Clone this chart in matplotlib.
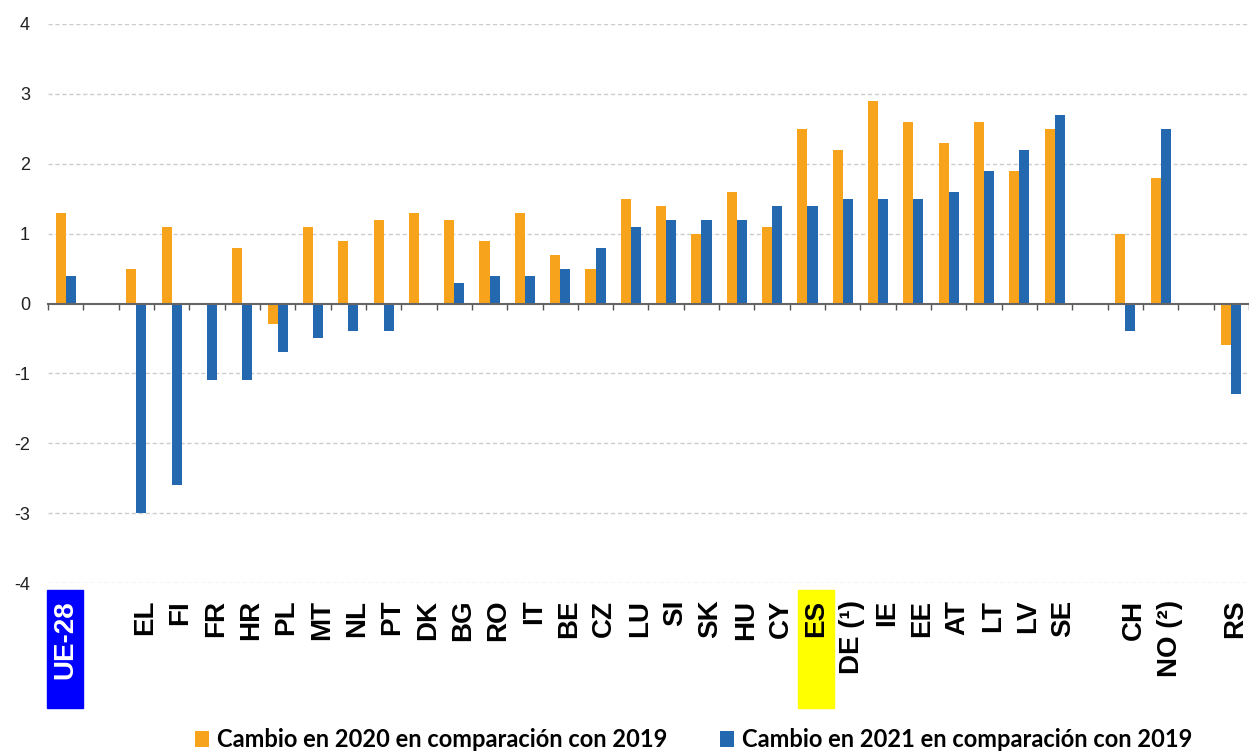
import numpy as np
import matplotlib.pyplot as plt
from matplotlib.patches import Rectangle

nan = np.nan

# empty strings are the blank slots between groups
paises = ["UE-28", "", "EL", "FI", "FR", "HR", "PL", "MT", "NL", "PT", "DK",
          "BG", "RO", "IT", "BE", "CZ", "LU", "SI", "SK", "HU", "CY", "ES",
          "DE (¹)", "IE", "EE", "AT", "LT", "LV", "SE", "", "CH", "NO (²)", "", "RS"]
cambio_2020 = [1.3, nan, 0.5, 1.1, 0.0, 0.8, -0.3, 1.1, 0.9, 1.2, 1.3,
               1.2, 0.9, 1.3, 0.7, 0.5, 1.5, 1.4, 1.0, 1.6, 1.1, 2.5,
               2.2, 2.9, 2.6, 2.3, 2.6, 1.9, 2.5, nan, 1.0, 1.8, nan, -0.6]
cambio_2021 = [0.4, nan, -3.0, -2.6, -1.1, -1.1, -0.7, -0.5, -0.4, -0.4, 0.0,
               0.3, 0.4, 0.4, 0.5, 0.8, 1.1, 1.2, 1.2, 1.2, 1.4, 1.4,
               1.5, 1.5, 1.5, 1.6, 1.9, 2.2, 2.7, nan, -0.4, 2.5, nan, -1.3]
serie_2020 = "Cambio en 2020 en comparación con 2019"
serie_2021 = "Cambio en 2021 en comparación con 2019"
resaltados = {"UE-28": ("#0000ff", "white"), "ES": ("#ffff00", "black")}

naranja = "#f7a31c"
azul = "#2468b0"

plt.rcParams['font.family'] = ['Liberation Sans', 'DejaVu Sans']
plt.rcParams['axes.unicode_minus'] = False

fig = plt.figure(figsize=(12.49, 7.51), dpi=100)
ax = fig.add_axes([48 / 1249, 168 / 751, 1 - 48 / 1249, 559 / 751])

x = np.arange(len(paises))
w = 0.285
b1 = ax.bar(x - w / 2, cambio_2020, w, color=naranja, label=serie_2020, zorder=3)
b2 = ax.bar(x + w / 2, cambio_2021, w, color=azul, label=serie_2021, zorder=3)

ax.set_xlim(-0.5, len(paises) - 0.5)
ax.set_ylim(-4, 4)
ax.set_yticks(range(-4, 5))
ax.tick_params(axis='y', length=0, labelsize=13, pad=13, labelcolor='#222222')
for v in range(-4, 5):
    if v != 0:
        ax.axhline(v, color='#cccccc', lw=1, ls=(0, (3, 2)), zorder=1)

for s in ['left', 'right', 'top']:
    ax.spines[s].set_visible(False)
ax.spines['bottom'].set_position(('data', 0))
ax.spines['bottom'].set_color('#666666')
ax.spines['bottom'].set_linewidth(1.5)
ax.spines['bottom'].set_zorder(4)
ax.set_xticks([])
ax.set_xticks(np.arange(len(paises) + 1) - 0.5, minor=True)
ax.tick_params(axis='x', which='minor', length=4, width=1, color='#555555',
               labelbottom=False)

# category labels under the plot
trans = ax.get_xaxis_transform()
for i, p in enumerate(paises):
    if not p:
        continue
    if i < 2:
        xl = i
    elif i == len(paises) - 1:
        xl = i + 0.1
    else:
        xl = i + 0.25
    col = 'black'
    if p in resaltados:
        fondo, col = resaltados[p]
        ax.add_patch(Rectangle((xl - 0.52, -0.0125), 1.02, -0.211, transform=trans,
                               clip_on=False, color=fondo, zorder=1))
    ax.text(xl, -0.03, p, transform=trans, rotation=90, ha='center', va='top',
            fontsize=20, fontweight='bold', color=col, zorder=2)

fig.legend(handles=[b1, b2], loc='lower left', bbox_to_anchor=(195 / 1249, 0.0),
           ncol=2, frameon=False, borderpad=0, borderaxespad=0,
           handlelength=0.6, handleheight=0.65, handletextpad=0.35,
           columnspacing=2.2, prop={'family': 'Lato', 'weight': 'bold', 'size': 17})

fig.savefig("out.png", dpi=100)
